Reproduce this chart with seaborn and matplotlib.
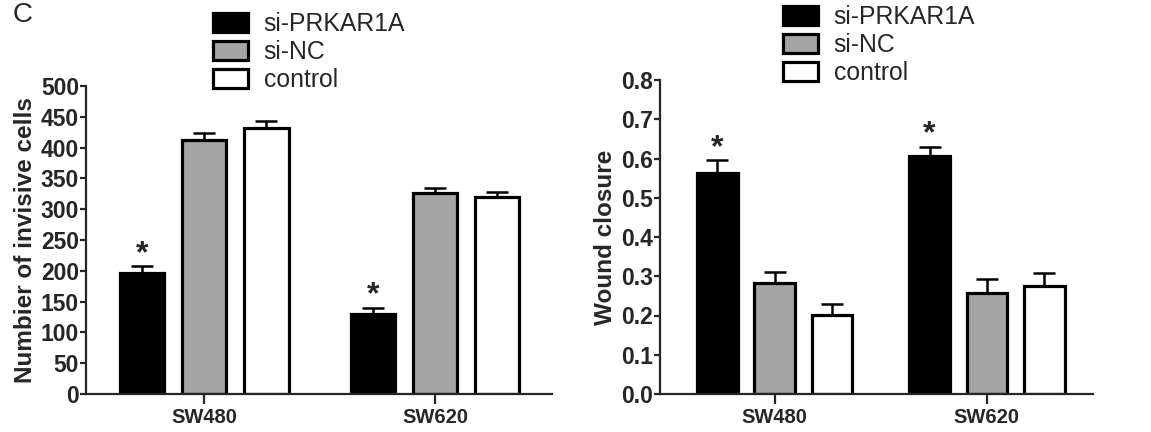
import pandas as pd
import numpy as np
import matplotlib
matplotlib.use("Agg")
import matplotlib.pyplot as plt
import seaborn as sns

# values
cell_lines = ["SW480", "SW620"]
groups = ["si-PRKAR1A", "si-NC", "control"]

invasion_mean = {"si-PRKAR1A": [197, 130], "si-NC": [413, 326], "control": [432, 320]}
invasion_err = {"si-PRKAR1A": [10, 10], "si-NC": [10, 9], "control": [11, 8]}

wound_mean = {"si-PRKAR1A": [0.562, 0.606], "si-NC": [0.284, 0.258], "control": [0.202, 0.276]}
wound_err = {"si-PRKAR1A": [0.033, 0.024], "si-NC": [0.028, 0.034], "control": [0.028, 0.033]}

colors = ["#000000", "#a5a5a5", "#ffffff"]


def to_long(means):
    rows = []
    for g in groups:
        for c, v in zip(cell_lines, means[g]):
            rows.append({"cell": c, "group": g, "value": v})
    return pd.DataFrame(rows)


sns.set_style("ticks")
plt.rcParams["font.family"] = ["Liberation Sans", "DejaVu Sans"]

fig = plt.figure(figsize=(11.51, 4.32), dpi=100)
ax1 = fig.add_axes([86 / 1151, 38 / 432, (552 - 86) / 1151, (394 - 86) / 432])
ax2 = fig.add_axes([660 / 1151, 38 / 432, (1093 - 660) / 1151, (394 - 80) / 432])


def draw_panel(ax, means, errs, ylim, yticks, ylabel, xlim, ytickfmt, star_pts):
    df = to_long(means)
    sns.barplot(data=df, x="cell", y="value", hue="group", hue_order=groups,
                order=cell_lines, palette=colors, edgecolor="black", linewidth=2.3,
                errorbar=None, width=0.81, gap=0.29, saturation=1, ax=ax)
    # one-sided error bars, top only
    for cont, g in zip(ax.containers, groups):
        xs = [p.get_x() + p.get_width() / 2 for p in cont.patches]
        hs = [p.get_height() for p in cont.patches]
        ax.errorbar(xs, hs, yerr=[np.zeros(len(hs)), errs[g]], fmt="none",
                    ecolor="black", elinewidth=1.8, capsize=8, capthick=1.8, zorder=1)
        if g == "si-PRKAR1A":
            for x, h, e, off in zip(xs, hs, errs[g], star_pts):
                ax.annotate("*", (x, h + e), xytext=(0, off), textcoords="offset points",
                            ha="center", va="bottom", fontsize=23, fontweight="bold")
    ax.set_ylim(*ylim)
    ax.set_xlim(*xlim)
    ax.set_yticks(yticks)
    ax.set_yticklabels([ytickfmt(t) for t in yticks], fontsize=16.5, fontweight="bold")
    ax.set_xticks([0, 1])
    ax.set_xticklabels(cell_lines, fontsize=14.5, fontweight="bold")
    ax.set_xlabel("")
    ax.set_ylabel(ylabel, fontsize=17.5, fontweight="bold", labelpad=3)
    sns.despine(ax=ax)
    for s in ["left", "bottom"]:
        ax.spines[s].set_linewidth(1.6)
    ax.tick_params(axis="y", length=4, width=1.6, pad=1)
    ax.tick_params(axis="x", length=7, width=1.6, pad=3)
    handles, labels = ax.get_legend_handles_labels()
    if ax.get_legend() is not None:
        ax.get_legend().remove()
    return handles, labels


h1, l1 = draw_panel(ax1, invasion_mean, invasion_err, (0, 500), list(range(0, 501, 50)),
                    "Numbier of invisive cells", (-0.512, 1.507), lambda t: f"{t:d}", [-2, -2])
h2, l2 = draw_panel(ax2, wound_mean, wound_err, (0, 0.8), [i / 10 for i in range(9)],
                    "Wound closure", (-0.54, 1.5), lambda t: f"{t:.1f}", [-2, -2])

leg_kw = dict(loc="upper left", frameon=False, fontsize=17.8, handlelength=1.4,
              handleheight=0.8, handletextpad=0.65, labelspacing=0.17,
              borderpad=0, borderaxespad=0)
fig.legend(h1, l1, bbox_to_anchor=(213 / 1151, 1 - 12 / 432), **leg_kw)
fig.legend(h2, l2, bbox_to_anchor=(783 / 1151, 1 - 5 / 432), **leg_kw)

fig.text(13 / 1151, 1 - 15 / 432, "C", fontsize=20, va="center", ha="left")

fig.savefig("out.png", dpi=100)
